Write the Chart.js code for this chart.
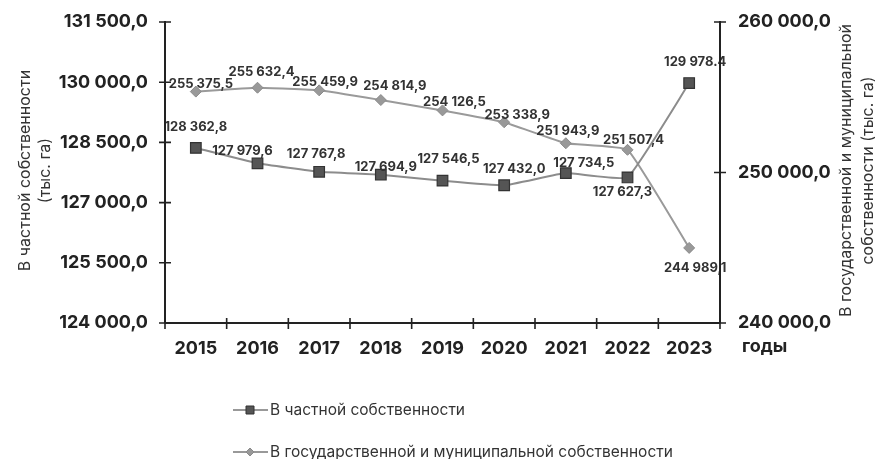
<!DOCTYPE html>
<html><head><meta charset="utf-8">
<script src="https://cdn.jsdelivr.net/npm/chart.js@4.4.1/dist/chart.umd.min.js"></script>
<style>html,body{margin:0;padding:0;background:#fff;}#wrap{width:887px;height:459px;}</style>
</head><body><div id="wrap"><canvas id="c" width="887" height="459"></canvas></div>
<script>
const years = ['2015','2016','2017','2018','2019','2020','2021','2022','2023'];
const privateLand = [128362.8, 127979.6, 127767.8, 127694.9, 127546.5, 127432.0, 127734.5, 127627.3, 129978.4];
const stateLand = [255375.5, 255632.4, 255459.9, 254814.9, 254126.5, 253338.9, 251943.9, 251507.4, 244989.1];
const privateDecimalMark = [',', ',', ',', ',', ',', ',', ',', ',', '.'];
const stateDecimalMark = [',', ',', ',', ',', ',', ',', ',', ',', ','];
const leftAxisMin = 124000, leftAxisMax = 131500, leftAxisStep = 1500;
const rightAxisMin = 240000, rightAxisMax = 260000, rightAxisStep = 10000;
const seriesNames = ['В частной собственности', 'В государственной и муниципальной собственности'];
const leftTitle = ['В частной собственности', '(тыс. га)'];
const rightTitle = ['В государственной и муниципальной', 'собственности (тыс. га)'];
const xUnit = 'годы';

// label placement offsets (px) relative to each point
const privateLabelOffset = [[0,-21],[-15,-12],[-3,-18],[5,-8],[6,-22],[10,-16],[18,-10],[-5,15],[6,-21]];
const stateLabelOffset = [[5,-8],[4,-16],[6,-8],[14,-14],[12,-8],[13,-7],[2,-12],[6,-10],[6,20]];

function fmt(v, sep) {
  const parts = v.toFixed(1).split('.');
  return parts[0].replace(/\B(?=(\d{3})+(?!\d))/g, ' ') + (sep || ',') + parts[1];
}

const FONT = 'Inter, "Liberation Sans", Arial, sans-serif';
const AXIS = '#222';

const decor = {
  id: 'decor',
  afterDatasetsDraw(chart) {
    const ctx = chart.ctx;
    ctx.save();
    ctx.font = 'bold 13px ' + FONT;
    ctx.fillStyle = '#333';
    ctx.textAlign = 'center';
    ctx.textBaseline = 'middle';
    const draw = (dsi, offs, marks) => {
      const meta = chart.getDatasetMeta(dsi);
      meta.data.forEach((pt, i) => {
        const v = chart.data.datasets[dsi].data[i];
        ctx.fillText(fmt(v, marks[i]), pt.x + offs[i][0], pt.y + offs[i][1]);
      });
    };
    draw(0, privateLabelOffset, privateDecimalMark);
    draw(1, stateLabelOffset, stateDecimalMark);
    ctx.restore();
  },
  afterDraw(chart) {
    const ctx = chart.ctx;
    const ca = chart.chartArea;
    const yL = chart.scales.y, yR = chart.scales.y2;
    ctx.save();
    ctx.strokeStyle = AXIS;
    ctx.lineWidth = 2;
    ctx.beginPath();
    ctx.moveTo(ca.left, ca.top - 1); ctx.lineTo(ca.left, ca.bottom);
    ctx.moveTo(ca.right, ca.top - 1); ctx.lineTo(ca.right, ca.bottom);
    ctx.moveTo(ca.left, ca.bottom); ctx.lineTo(ca.right, ca.bottom);
    ctx.stroke();
    ctx.lineWidth = 1.6;
    ctx.beginPath();
    yL.ticks.forEach(t => { const p = yL.getPixelForValue(t.value); ctx.moveTo(ca.left - 6, p); ctx.lineTo(ca.left + 6, p); });
    yR.ticks.forEach(t => { const p = yR.getPixelForValue(t.value); ctx.moveTo(ca.right - 6, p); ctx.lineTo(ca.right + 6, p); });
    const n = years.length;
    for (let k = 0; k <= n; k++) {
      const px = ca.left + (ca.right - ca.left) * k / n;
      ctx.moveTo(px, ca.bottom - 5); ctx.lineTo(px, ca.bottom + 6);
    }
    ctx.stroke();

    ctx.fillStyle = '#222';
    ctx.font = 'bold 18px ' + FONT;
    ctx.textAlign = 'left';
    ctx.textBaseline = 'middle';
    ctx.fillText(xUnit, ca.right + 22, ca.bottom + 24);

    ctx.font = '16px ' + FONT;
    ctx.fillStyle = '#333';
    ctx.textAlign = 'center';
    const cy = (ca.top + ca.bottom) / 2;
    [[25, leftTitle[0]], [45, leftTitle[1]], [846, rightTitle[0]], [868, rightTitle[1]]].forEach(([tx, s]) => {
      ctx.save();
      ctx.translate(tx, cy - 2);
      ctx.rotate(-Math.PI / 2);
      ctx.fillText(s, 0, 0);
      ctx.restore();
    });

    const ds = chart.data.datasets;
    const rows = [410, 452];
    ctx.font = '15.5px ' + FONT;
    ctx.textAlign = 'left';
    rows.forEach((ry, i) => {
      ctx.strokeStyle = '#777';
      ctx.lineWidth = 1.6;
      ctx.beginPath(); ctx.moveTo(233, ry); ctx.lineTo(268, ry); ctx.stroke();
      ctx.fillStyle = ds[i].pointBackgroundColor;
      ctx.strokeStyle = ds[i].pointBorderColor;
      ctx.lineWidth = 1;
      ctx.beginPath();
      if (i === 0) { ctx.rect(246, ry - 4, 8, 8); }
      else { ctx.moveTo(250, ry - 4); ctx.lineTo(254, ry); ctx.lineTo(250, ry + 4); ctx.lineTo(246, ry); ctx.closePath(); }
      ctx.fill(); ctx.stroke();
      ctx.fillStyle = '#333';
      ctx.fillText(ds[i].label, 270, ry);
    });
    ctx.restore();
  }
};

function fitV(w) { return s => { s.width = w; s.paddingTop = 0; s.paddingBottom = 0; }; }

new Chart(document.getElementById('c'), {
  type: 'line',
  data: {
    labels: years,
    datasets: [
      { label: seriesNames[0], data: privateLand, yAxisID: 'y',
        borderColor: '#8c8c8c', borderWidth: 2, pointStyle: 'rect', pointRadius: 7.5,
        pointBackgroundColor: '#555', pointBorderColor: '#333', pointBorderWidth: 1.2, tension: 0.1 },
      { label: seriesNames[1], data: stateLand, yAxisID: 'y2',
        borderColor: '#9a9a9a', borderWidth: 2, pointStyle: 'rectRot', pointRadius: 5.5,
        pointBackgroundColor: '#999', pointBorderColor: '#8a8a8a', pointBorderWidth: 1, tension: 0.1 }
    ]
  },
  options: {
    responsive: false, animation: false, devicePixelRatio: 1,
    layout: { padding: { top: 22, left: 0, right: 0, bottom: 0 } },
    plugins: { legend: { display: false }, tooltip: { enabled: false } },
    scales: {
      x: { offset: true, grid: { display: false, drawTicks: false }, border: { display: false },
        ticks: { color: '#222', font: { family: FONT, size: 18, weight: 'bold' }, padding: 15, maxRotation: 0, autoSkip: false },
        afterFit(s) { s.height = 136; s.paddingLeft = 0; s.paddingRight = 0; } },
      y: { position: 'left', min: leftAxisMin, max: leftAxisMax,
        grid: { display: false, drawTicks: false }, border: { display: false },
        ticks: { stepSize: leftAxisStep, color: '#222', padding: 17, font: { family: FONT, size: 18, weight: 'bold' }, callback: v => fmt(v) },
        afterFit: fitV(165) },
      y2: { position: 'right', min: rightAxisMin, max: rightAxisMax,
        grid: { display: false, drawTicks: false }, border: { display: false },
        ticks: { stepSize: rightAxisStep, color: '#222', padding: 18, font: { family: FONT, size: 18, weight: 'bold' }, callback: v => fmt(v) },
        afterFit: fitV(167) }
    }
  },
  plugins: [decor]
});
</script></body></html>
